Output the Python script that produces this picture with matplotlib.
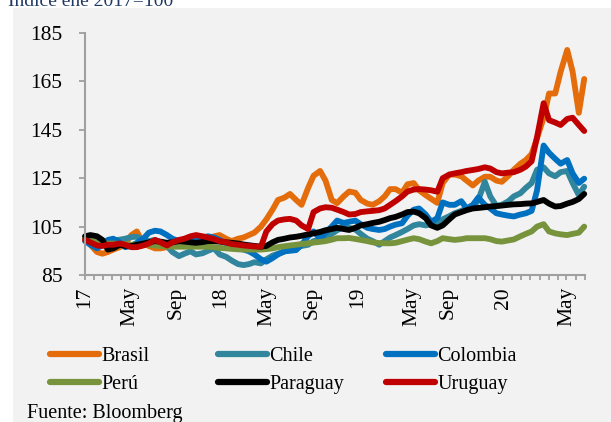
import numpy as np
import pandas as pd
import matplotlib
matplotlib.use("Agg")
import matplotlib.pyplot as plt
import matplotlib.dates as mdates
from matplotlib.patches import Rectangle
from matplotlib.lines import Line2D

# ---------------- data (index Jan 2017 = 100, semi-monthly readings) ----------------
dates = pd.date_range("2017-01-01", "2020-07-15", freq="SMS")

brasil = [100, 97.5, 94.5, 93.8, 94.5, 95.5, 96.5, 98, 101.5, 103,
          98, 97, 96, 96, 96.5, 97.5, 98, 98.5, 99, 99,
          99.5, 100, 101, 101.5, 100, 99, 100, 100.5, 101.5, 102.5,
          105, 108, 112, 116, 117, 118.5, 116, 114, 121, 126,
          128, 124, 116, 114.7, 117.5, 119.5, 119, 116, 114.5, 114,
          115.5, 117.5, 120.5, 120.5, 119, 122.5, 123, 120, 118, 116.5,
          114.8, 123, 126.5, 126.5, 125.8, 124, 122, 124, 125.6, 125.6,
          124, 123.5, 126, 128.5, 131, 132.5, 135, 141.5, 150, 160,
          160, 169, 178, 169, 152, 166]

chile = [99.5, 99, 98.3, 98.5, 99, 99.3, 99.6, 100, 100.7, 100.8,
         99.5, 99, 99.5, 98.5, 97, 94.5, 92.8, 93.8, 94.8, 93.5,
         94, 95, 96, 93.5, 92.5, 91, 89.5, 89.1, 89.5, 90.3,
         89.8, 91.5, 93, 93.8, 94.7, 95.5, 96.3, 97, 97.5, 99,
         99.5, 100.2, 102, 103.5, 105, 104.5, 103.8, 102, 100, 99,
         97.5, 99, 100.5, 101.5, 102.8, 104, 105.5, 106, 105.5, 106,
         106.4, 108, 109.3, 110.5, 111.5, 112.5, 113, 116, 123.5, 117.5,
         113.5, 114, 115.5, 117.5, 118.8, 121, 123, 128.5, 129.5, 127,
         125.8, 127.5, 128, 123, 118, 121.5]

colombia = [99, 97.5, 96, 97.5, 99.5, 100, 98.5, 96.5, 97, 98.3,
            100, 102.5, 103.3, 103, 101.5, 100, 99, 99, 99.5, 99.8,
            100.5, 101, 100.5, 99.5, 98, 97, 96.3, 95.5, 94.8, 93.5,
            91.5, 90.5, 92, 93.5, 94.8, 95, 95.3, 97.5, 101, 103,
            100, 102.5, 105, 107.5, 106.5, 107, 107.5, 106, 104.5, 104,
            103.6, 104, 105, 105.8, 106.4, 109.5, 112, 112.5, 110, 107,
            108.5, 115, 114, 114, 115.5, 112.5, 114, 117, 114, 112.5,
            110.5, 110, 109.5, 109.2, 110, 110.5, 111.5, 120, 138.5, 135.5,
            133, 131, 132.5, 127, 123, 124.8]

peru = [99.5, 99, 98.5, 98, 98, 98, 97.8, 97.8, 97.5, 97.5,
        97.5, 97.5, 97.2, 97, 96.8, 96.7, 96.7, 96.7, 96.7, 96.7,
        96.7, 96.7, 96.5, 96.2, 96, 95.8, 95.6, 95.5, 95.5, 95.5,
        95.5, 95.7, 96, 96.5, 96.9, 97.2, 97.5, 97.8, 98.1, 98.4,
        98.7, 99, 99.6, 100.2, 100.2, 100.3, 99.9, 99.5, 99, 98.5,
        98.2, 98.1, 98.1, 98.3, 99, 99.6, 100.2, 99.8, 98.8, 98.1,
        99, 100.2, 99.8, 99.5, 99.8, 100.2, 100.2, 100.2, 100.2, 99.8,
        99, 98.8, 99.3, 99.7, 101, 102, 103, 105, 106, 103,
        102.2, 101.8, 101.5, 102, 102.5, 105]

paraguay = [101, 101.5, 101, 99.5, 95.5, 96, 97.5, 97, 97, 97.5,
            98, 98.5, 99, 98.8, 98.3, 98.5, 99, 98.8, 98.5, 98.3,
            98.6, 99, 99, 98.8, 98.5, 98.3, 98, 97.6, 97.3, 97,
            96.7, 97, 98.5, 99.5, 100, 100.5, 100.8, 101.2, 101.8, 102.2,
            102.8, 103.5, 104, 104.5, 104, 103.6, 104.5, 105.5, 106, 106.5,
            107, 107.7, 108.5, 109, 110, 111, 111.2, 110.5, 108.5, 105.5,
            104.5, 105.5, 108, 110, 111, 111.8, 112.5, 112.7, 113, 113.3,
            113.5, 113.7, 114, 114.2, 114.3, 114.5, 114.6, 115.2, 116, 114.5,
            113.3, 113.5, 114.5, 115.2, 116.4, 118.5]

uruguay = [99.5, 98.5, 97.2, 97, 97.5, 97.5, 98, 97.5, 96.5, 96.5,
           97.2, 98, 99.5, 98.5, 97.2, 98.5, 99.5, 100, 101, 101.5,
           101, 100.5, 99.8, 99, 98.5, 97.8, 97.5, 97.2, 97, 96.8,
           96.7, 103, 106, 107.5, 108, 108.2, 107.5, 105.5, 104, 111,
           112.5, 113, 112.8, 112, 111, 110, 110.2, 111, 111.3, 111.5,
           111.8, 112.5, 114, 115.5, 117.5, 119.5, 120.3, 120.5, 120.3, 120,
           119.4, 125, 126.5, 127, 127.5, 128, 128.4, 128.8, 129.5, 129,
           127.5, 127, 127.3, 127.5, 128.5, 129.8, 132, 142, 156, 149,
           148, 147, 149.5, 150, 147, 144.5]

series_names = ["Brasil", "Chile", "Colombia", "Perú", "Paraguay", "Uruguay"]
series_values = [brasil, chile, colombia, peru, paraguay, uruguay]
series_colors = ["#E46C0A", "#31859C", "#0070C0", "#77933C", "#000000", "#C00000"]

tick_label_dates = ["2017-01-01", "2017-04-28", "2017-08-24", "2017-12-19",
                    "2018-04-16", "2018-08-11", "2018-12-07", "2019-04-27",
                    "2019-07-30", "2019-12-18", "2020-05-30"]
tick_labels = ["17", "May", "Sep", "18", "May", "Sep", "19", "May", "Sep", "20", "May"]
y_ticks = [85, 105, 125, 145, 165, 185]

title_text = "Índice ene 2017=100"
source_text = "Fuente: Bloomberg"

# ---------------- figure ----------------
W, H = 611, 422
SERIF = ["Liberation Serif", "DejaVu Serif"]
fig = plt.figure(figsize=(W / 100, H / 100), dpi=100)
fig.patch.set_facecolor("white")
fig.patches.append(Rectangle((13 / W, 0), 1 - 13 / W, (H - 8) / H,
                             transform=fig.transFigure, facecolor="#f2f2f2",
                             edgecolor="none", zorder=-10))

ax = fig.add_axes([85 / W, 1 - 275 / H, 500 / W, 242 / H])
ax.set_facecolor("none")

x = mdates.date2num(dates)
handles = []
for name, vals, col in zip(series_names, series_values, series_colors):
    h, = ax.plot(x, vals, color=col, lw=4.2, solid_capstyle="round",
                 solid_joinstyle="round", label=name, clip_on=False)
    handles.append(h)

x0 = mdates.date2num(pd.Timestamp("2017-01-01"))
x1 = mdates.date2num(pd.Timestamp("2020-07-17"))
ax.set_xlim(x0, x1)
ax.set_ylim(85, 185)

major = mdates.date2num(pd.to_datetime(tick_label_dates))
minor = np.linspace(x0, x1, 56)
minor = [m for m in minor if np.min(np.abs(major - m)) > 4]
ax.set_xticks(major)
ax.set_xticklabels(tick_labels, rotation=90, family=SERIF, fontsize=15.5)
ax.set_xticks(minor, minor=True)
ax.set_yticks(y_ticks)
ax.set_yticklabels([str(v) for v in y_ticks], family=SERIF, fontsize=15.5)

gray = "#a0a0a0"
for s in ["top", "right"]:
    ax.spines[s].set_visible(False)
for s in ["left", "bottom"]:
    ax.spines[s].set_color(gray)
    ax.spines[s].set_linewidth(1.5)
ax.tick_params(axis="y", direction="out", length=4.3, width=1.3, color=gray,
               pad=12, labelcolor="black")
ax.tick_params(axis="x", which="both", direction="out", length=3.6, width=1.3,
               color=gray, pad=5, labelcolor="black")

# legend: three columns at fixed positions
cols_x = [50, 218, 386]
order = [(0, 3), (1, 4), (2, 5)]
for cx, (a, b) in zip(cols_x, order):
    leg = fig.legend([handles[a], handles[b]], [series_names[a], series_names[b]],
                     loc="upper left", bbox_to_anchor=(cx / W, 1 - 347 / H),
                     frameon=False, borderpad=0, borderaxespad=0,
                     handlelength=2.45, handletextpad=0.1, labelspacing=0.42,
                     prop={"family": SERIF, "size": 14.5})
    for ln in leg.get_lines():
        ln.set_linewidth(4.5)
        ln.set_solid_capstyle("round")

fig.text(8 / W, 1 - 6 / H, title_text, ha="left", va="baseline",
         family=SERIF, fontsize=14, color="#1F3864")
fig.text(27 / W, 1 - 418 / H, source_text, ha="left", va="baseline",
         family=SERIF, fontsize=14.5, color="black")

fig.savefig("out.png", dpi=100)
